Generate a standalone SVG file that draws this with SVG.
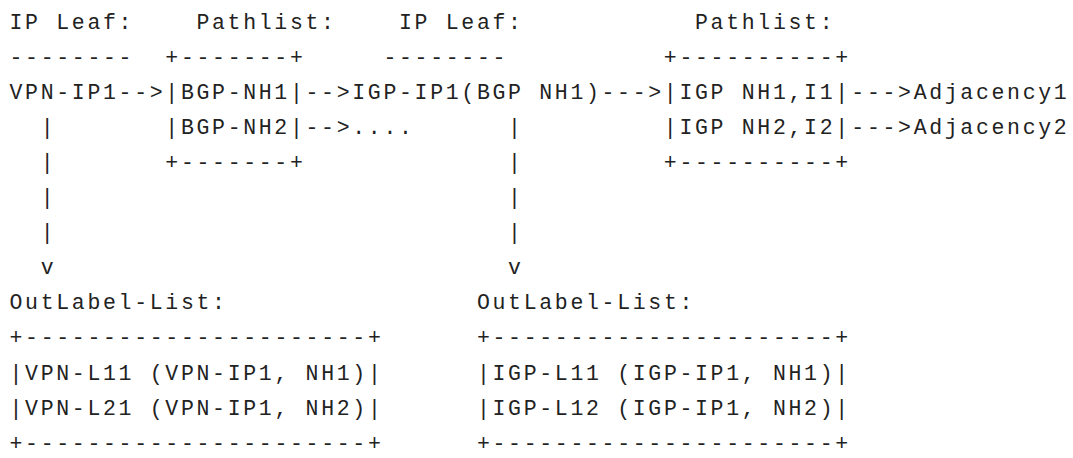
<svg xmlns="http://www.w3.org/2000/svg" width="1073" height="458" viewBox="0 0 1073 458">
<style>
text{font-family:"Liberation Mono","DejaVu Sans Mono",monospace;font-size:21.5px;letter-spacing:2.68px;fill:#222;white-space:pre}
</style>
<rect width="1073" height="458" fill="#fff"/>
<g id="vpn-ip-leaf">
<text x="9.5" y="28.5">IP Leaf:</text>
<text x="9.5" y="63.6">--------</text>
<text x="9.5" y="98.7">VPN-IP1</text>
</g>
<g id="pathlist-bgp">
<text x="196.46" y="28.5">Pathlist:</text>
<text x="165.3" y="63.6">+-------+</text>
<text x="165.3" y="98.7">|BGP-NH1|</text>
<text x="165.3" y="133.8">|BGP-NH2|</text>
<text x="165.3" y="168.9">+-------+</text>
</g>
<g id="igp-ip-leaf">
<text x="399" y="28.5">IP Leaf:</text>
<text x="383.42" y="63.6">--------</text>
<text x="352.26" y="98.7">IGP-IP1(BGP NH1)</text>
</g>
<g id="pathlist-igp">
<text x="695.02" y="28.5">Pathlist:</text>
<text x="663.86" y="63.6">+----------+</text>
<text x="663.86" y="98.7">|IGP NH1,I1|</text>
<text x="663.86" y="133.8">|IGP NH2,I2|</text>
<text x="663.86" y="168.9">+----------+</text>
</g>
<g id="adjacency1"><text x="913.64" y="98.7">Adjacency1</text></g>
<g id="adjacency2"><text x="913.64" y="133.8">Adjacency2</text></g>
<g id="outlabel-vpn">
<text x="9.5" y="309.3">OutLabel-List:</text>
<text x="9.5" y="344.4">+----------------------+</text>
<text x="9.5" y="379.5">|VPN-L11 (VPN-IP1, NH1)|</text>
<text x="9.5" y="414.6">|VPN-L21 (VPN-IP1, NH2)|</text>
<text x="9.5" y="449.7">+----------------------+</text>
</g>
<g id="outlabel-igp">
<text x="476.9" y="309.3">OutLabel-List:</text>
<text x="476.9" y="344.4">+----------------------+</text>
<text x="476.9" y="379.5">|IGP-L11 (IGP-IP1, NH1)|</text>
<text x="476.9" y="414.6">|IGP-L12 (IGP-IP1, NH2)|</text>
<text x="476.9" y="449.7">+----------------------+</text>
</g>
<g id="connectors">
<text x="118.56" y="98.7">--&gt;</text>
<text x="305.52" y="98.7">--&gt;</text>
<text x="305.52" y="133.8">--&gt;....</text>
<text x="601.54" y="98.7">---&gt;</text>
<text x="851.32" y="98.7">---&gt;</text>
<text x="851.32" y="133.8">---&gt;</text>
<text x="40.66" y="133.8">|</text>
<text x="40.66" y="168.9">|</text>
<text x="40.66" y="204">|</text>
<text x="40.66" y="239.1">|</text>
<text x="40.66" y="274.2">v</text>
<text x="508.06" y="133.8">|</text>
<text x="508.06" y="168.9">|</text>
<text x="508.06" y="204">|</text>
<text x="508.06" y="239.1">|</text>
<text x="508.06" y="274.2">v</text>
</g>
</svg>
